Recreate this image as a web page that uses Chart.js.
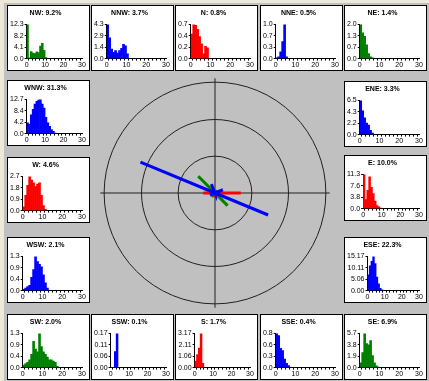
<!DOCTYPE html>
<html>
<head>
<meta charset="utf-8">
<script src="https://cdn.jsdelivr.net/npm/chart.js@4.4.0/dist/chart.umd.min.js"></script>
<style>
html, body { margin: 0; padding: 0; }
body { width: 429px; height: 381px; background: #c0c0c0; position: relative; overflow: hidden; }
#frameTop { position: absolute; left: 0; top: 0; width: 429px; height: 3px; background: #ece9d8; }
#frameLeft { position: absolute; left: 0; top: 0; width: 4px; height: 381px; background: #ece9d8; }
.box { position: absolute; width: 81px; height: 64px; background: #fff; border: 1px solid #000; }
.box canvas { display: block; }
#rose { position: absolute; left: 100px; top: 78px; }
</style>
</head>
<body>
<div id="frameTop"></div>
<div id="frameLeft"></div>
<canvas id="rose" width="230" height="230"></canvas>
<script>
// directions and frequency (%) of each
const dirs = ['N','NNE','NE','ENE','E','ESE','SE','SSE','S','SSW','SW','WSW','W','WNW','NW','NNW'];
const pct  = [0.8, 0.5, 1.4, 3.3, 10.0, 22.3, 6.9, 0.4, 1.7, 0.1, 2.0, 2.1, 4.6, 31.3, 9.2, 3.7];

// speed histograms, bins of 1 unit starting at 0
const hist_N   = [0.5, 0.7, 0.68, 0.6, 0.45, 0.3, 0.1, 0.25, 0.22];
const hist_NNE = [0.02, 0.05, 0.2, 0.5, 1.0, 0.05];
const hist_NE  = [2.0, 1.5, 1.3, 0.8, 0.3, 0.1, 0.05];
const hist_ENE = [6.5, 4.5, 3.2, 2.2, 1.8, 0.8, 0.3];
const hist_E   = [11.3, 3.0, 6.0, 10.5, 7.0, 5.0, 2.5, 1.0, 0.6, 0.2];
const hist_ESE = [7.0, 11.0, 13.0, 15.17, 12.0, 6.0, 3.0, 1.0, 0.3];
const hist_SE  = [0.8, 2.5, 5.7, 4.0, 3.8, 4.5, 2.0, 0.8, 0.3, 0.1];
const hist_SSE = [0.8, 0.75, 0.45, 0.4, 0.2, 0.1, 0.05];
const hist_S   = [0.6, 1.2, 1.8, 3.17, 0.4];
const hist_SSW = [0, 0, 0.08, 0.17];
const hist_SW  = [0.1, 0.15, 0.2, 0.3, 0.5, 1.0, 0.7, 0.6, 1.3, 0.8, 0.6, 0.5, 0.4, 0.3, 0.3, 0.25, 0.2, 0.05];
const hist_WSW = [0.05, 0.1, 0.15, 0.2, 0.5, 0.8, 1.3, 1.1, 1.0, 0.9, 0.6, 0.3, 0.1];
const hist_W   = [0.3, 1.2, 2.0, 2.7, 2.4, 2.2, 1.9, 2.1, 2.2, 1.2, 0.4, 0.1];
const hist_WNW = [4.0, 3.5, 7.0, 9.0, 11.0, 12.0, 12.5, 12.7, 11.0, 9.5, 6.0, 4.0, 2.7, 1.5, 0.8, 0.2];
const hist_NW  = [12.3, 0.3, 2.5, 2.0, 1.8, 2.4, 2.2, 4.5, 5.5, 3.0, 0.4];
const hist_NNW = [4.3, 2.6, 1.2, 0.8, 1.0, 0.7, 1.0, 1.3, 1.8, 1.6, 0.6];

// y tick labels, bottom to top
const yt_N   = ['0.0','0.2','0.4','0.7'];
const yt_NNE = ['0.0','0.3','0.7','1.0'];
const yt_NE  = ['0.0','0.7','1.3','2.0'];
const yt_ENE = ['0.0','2.2','4.3','6.5'];
const yt_E   = ['0.0','3.8','7.6','11.3'];
const yt_ESE = ['0.00','5.06','10.11','15.17'];
const yt_SE  = ['0.0','1.9','3.8','5.7'];
const yt_SSE = ['0.0','0.3','0.6','0.8'];
const yt_S   = ['0.00','1.06','2.11','3.17'];
const yt_SSW = ['0.00','0.06','0.11','0.17'];
const yt_SW  = ['0.0','0.4','0.9','1.3'];
const yt_WSW = ['0.0','0.4','0.9','1.3'];
const yt_W   = ['0.0','0.9','1.8','2.7'];
const yt_WNW = ['0.0','4.2','8.4','12.7'];
const yt_NW  = ['0.0','4.1','8.2','12.3'];
const yt_NNW = ['0.0','1.4','2.9','4.3'];

const xTicks = [0, 10, 20, 30];
const rings = [14.3, 28.5, 43];

const hists = { N: hist_N, NNE: hist_NNE, NE: hist_NE, ENE: hist_ENE, E: hist_E, ESE: hist_ESE,
  SE: hist_SE, SSE: hist_SSE, S: hist_S, SSW: hist_SSW, SW: hist_SW, WSW: hist_WSW,
  W: hist_W, WNW: hist_WNW, NW: hist_NW, NNW: hist_NNW };
const yTicks = { N: yt_N, NNE: yt_NNE, NE: yt_NE, ENE: yt_ENE, E: yt_E, ESE: yt_ESE,
  SE: yt_SE, SSE: yt_SSE, S: yt_S, SSW: yt_SSW, SW: yt_SW, WSW: yt_WSW,
  W: yt_W, WNW: yt_WNW, NW: yt_NW, NNW: yt_NNW };

// box positions (left, top)
const boxPos = {
  NW: [7, 5], NNW: [91, 5], N: [175, 5], NNE: [260, 5], NE: [344, 5],
  WNW: [7, 80], W: [7, 157], WSW: [7, 237],
  ENE: [344, 81], E: [344, 155], ESE: [344, 237],
  SW: [7, 314], SSW: [91, 314], S: [175, 314], SSE: [260, 314], SE: [344, 314]
};

const FONT = '"Liberation Sans", Arial, sans-serif';

function dirColor(i) {
  if (i % 4 === 0) return '#ff0000';
  if (i % 4 === 2) return '#008000';
  return '#0000ff';
}

function smallChart(i) {
  const dir = dirs[i];
  const div = document.createElement('div');
  div.className = 'box';
  div.style.left = boxPos[dir][0] + 'px';
  div.style.top = boxPos[dir][1] + 'px';
  const cv = document.createElement('canvas');
  cv.width = 81; cv.height = 64;
  div.appendChild(cv);
  document.body.appendChild(div);

  const labs = yTicks[dir];
  const yMax = parseFloat(labs[3]);

  new Chart(cv, {
    type: 'bar',
    data: {
      datasets: [{
        data: hists[dir].map((v, k) => ({ x: k + 0.5, y: v })),
        backgroundColor: dirColor(i),
        borderWidth: 0,
        barPercentage: 1,
        categoryPercentage: 1
      }]
    },
    options: {
      responsive: false,
      animation: false,
      events: [],
      layout: { padding: { left: 1, right: 7, top: 0, bottom: 1 } },
      plugins: {
        legend: { display: false },
        tooltip: { enabled: false },
        title: {
          display: true,
          text: dir + ': ' + pct[i].toFixed(1) + '%',
          color: '#000',
          font: { size: 7, weight: 'bold', family: FONT },
          padding: { top: 3, bottom: 7 }
        }
      },
      scales: {
        x: {
          type: 'linear', min: 0, max: 30, offset: false,
          ticks: {
            stepSize: 2, autoSkip: false, maxRotation: 0, padding: 0,
            color: '#000', font: { size: 7, family: FONT },
            callback: v => xTicks.includes(v) ? String(v) : ''
          },
          grid: { drawOnChartArea: false, tickLength: 2, color: '#000' },
          border: { color: '#000' }
        },
        y: {
          min: 0, max: yMax,
          afterBuildTicks: s => { s.ticks = [0, 1, 2, 3].map(k => ({ value: yMax * k / 3 })); },
          ticks: {
            padding: 1, color: '#000', font: { size: 7, family: FONT },
            callback: (v, k) => labs[k]
          },
          grid: { drawOnChartArea: false, tickLength: 2, color: '#000' },
          border: { color: '#000' }
        }
      }
    }
  });
}

dirs.forEach((d, i) => smallChart(i));

// central rose
const R = 44.6, CROSS = 44.5;
const roseSets = [
  { data: [{ x: -CROSS, y: 0 }, { x: CROSS, y: 0 }], borderColor: '#202020', borderWidth: 1, order: 5 },
  { data: [{ x: 0, y: -CROSS }, { x: 0, y: CROSS }], borderColor: '#202020', borderWidth: 1, order: 5 }
];
dirs.forEach((d, i) => {
  const a = i * 22.5 * Math.PI / 180;
  roseSets.push({
    data: [{ x: 0, y: 0 }, { x: pct[i] * Math.sin(a), y: pct[i] * Math.cos(a) }],
    borderColor: dirColor(i),
    borderWidth: 3,
    borderCapStyle: 'butt',
    order: dirColor(i) === '#0000ff' ? 1 : 2
  });
});

const ringPlugin = {
  id: 'rings',
  beforeDatasetsDraw(chart) {
    const { ctx, scales: { x, y } } = chart;
    const cx = x.getPixelForValue(0), cy = y.getPixelForValue(0);
    ctx.save();
    ctx.strokeStyle = '#202020';
    ctx.lineWidth = 1;
    rings.forEach(r => {
      ctx.beginPath();
      ctx.arc(cx, cy, x.getPixelForValue(r) - cx, 0, Math.PI * 2);
      ctx.stroke();
    });
    ctx.restore();
  }
};

new Chart(document.getElementById('rose'), {
  type: 'scatter',
  data: { datasets: roseSets.map(s => Object.assign({ showLine: true, pointRadius: 0, fill: false }, s)) },
  options: {
    responsive: false,
    animation: false,
    events: [],
    layout: { padding: 0 },
    plugins: { legend: { display: false }, tooltip: { enabled: false } },
    scales: {
      x: { min: -R, max: R, display: false },
      y: { min: -R, max: R, display: false }
    }
  },
  plugins: [ringPlugin]
});
</script>
</body>
</html>
